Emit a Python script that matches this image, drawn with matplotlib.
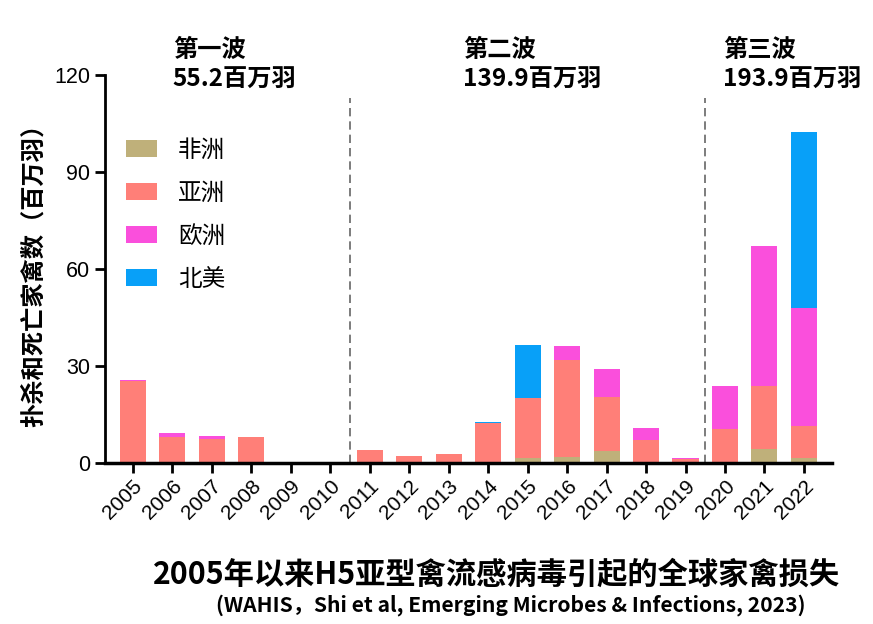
import matplotlib
matplotlib.use('Agg')
import matplotlib.pyplot as plt
import numpy as np

plt.rcParams['font.family'] = ['Noto Sans CJK SC', 'DejaVu Sans']

years = ['2005', '2006', '2007', '2008', '2009', '2010', '2011', '2012', '2013',
         '2014', '2015', '2016', '2017', '2018', '2019', '2020', '2021', '2022']
# millions of birds
africa = [0, 0, 0, 0, 0, 0, 0, 0, 0, 0, 1.5, 1.9, 3.8, 0, 0, 0, 4.4, 1.6]
asia = [25.3, 8.0, 7.3, 8.1, 0, 0.3, 4.0, 2.1, 2.9, 12.3, 18.7, 29.8, 16.7, 7.2, 1.2, 10.6, 19.4, 9.9]
europe = [0.5, 1.2, 1.1, 0, 0, 0, 0, 0, 0, 0.2, 0, 4.6, 8.6, 3.7, 0.4, 13.3, 43.4, 36.3]
n_america = [0, 0, 0, 0, 0, 0, 0, 0, 0, 0.2, 16.4, 0, 0, 0, 0, 0, 0, 54.4]

regions = ['非洲', '亚洲', '欧洲', '北美']
colors = ['#BFB07A', '#FF7F78', '#FA4FDC', '#08A0F8']
wave_names = ['第一波', '第二波', '第三波']
wave_totals = ['55.2百万羽', '139.9百万羽', '193.9百万羽']

fig = plt.figure(figsize=(8.73, 6.24), dpi=100)
ax = fig.add_axes([0.120, 0.258, 0.833, 0.622])

x = np.arange(len(years))
bottom = np.zeros(len(years))
for name, vals, c in zip(regions, [africa, asia, europe, n_america], colors):
    ax.bar(x, vals, width=0.66, bottom=bottom, color=c, label=name)
    bottom += np.array(vals)

# wave separators
for xs in [5.5, 14.5]:
    ax.plot([xs, xs], [0, 113], color='#666666', lw=1.2, ls=(0, (5, 3)))

ax.set_xlim(-0.71, 17.71)
ax.set_ylim(0, 120)
ax.set_yticks([0, 30, 60, 90, 120])
ax.set_xticks(x)
ax.set_xticklabels(years, rotation=45, ha='right', rotation_mode='anchor', fontsize=15,
                   family=['Liberation Sans', 'DejaVu Sans'])
for lab in ax.get_yticklabels():
    lab.set_fontsize(15.5)
    lab.set_family(['Liberation Sans', 'DejaVu Sans'])
ax.tick_params(axis='both', direction='out', length=7, width=2)
ax.tick_params(axis='x', pad=3)
for s in ['top', 'right']:
    ax.spines[s].set_visible(False)
ax.spines['left'].set_linewidth(2)
ax.spines['bottom'].set_linewidth(2.5)

ax.set_ylabel('扑杀和死亡家禽数（百万羽）', fontsize=17.5, fontweight='bold', labelpad=6)

leg = ax.legend(loc='upper left', bbox_to_anchor=(0.0, 0.89), frameon=False, fontsize=17,
                handlelength=1.3, handleheight=0.75, labelspacing=0.85, handletextpad=0.9)

# wave labels above the plot
for xt, name, total in zip([1.01, 8.37, 14.96], wave_names, wave_totals):
    ax.text(xt, 127.7, name, fontsize=17.5, fontweight='bold', ha='left', va='center',
            clip_on=False)
    ax.text(xt, 118.5, total, fontsize=17.5, fontweight='bold', ha='left', va='center',
            clip_on=False)

fig.text(0.569, 0.079, '2005年以来H5亚型禽流感病毒引起的全球家禽损失', fontsize=21.8,
         fontweight='bold', ha='center', va='center')
fig.text(0.585, 0.030, '(WAHIS，Shi et al, Emerging Microbes & Infections, 2023)', fontsize=15.2,
         fontweight='bold', ha='center', va='center')

fig.savefig('out.png', dpi=100)
